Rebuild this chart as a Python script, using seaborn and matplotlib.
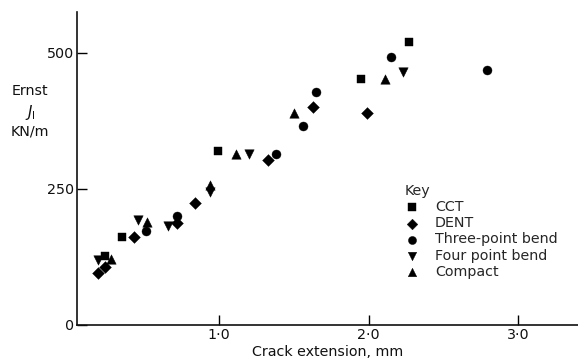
import matplotlib
matplotlib.use("Agg")
import matplotlib.pyplot as plt
import seaborn as sns
import pandas as pd

# Crack extension (mm) and Ernst J_I (kN/m) for each specimen geometry
cct_x = [0.24, 0.35, 0.99, 1.95, 2.27]
cct_y = [127, 162, 320, 452, 520]

dent_x = [0.19, 0.24, 0.43, 0.72, 0.84, 1.33, 1.63, 1.99]
dent_y = [95, 107, 161, 187, 225, 303, 400, 390]

three_x = [0.51, 0.72, 1.38, 1.56, 1.65, 2.15, 2.79]
three_y = [172, 200, 315, 366, 428, 492, 468]

four_x = [0.19, 0.46, 0.66, 0.94, 1.20, 2.23]
four_y = [120, 192, 182, 244, 314, 465]

compact_x = [0.28, 0.52, 0.94, 1.11, 1.50, 2.11]
compact_y = [122, 190, 258, 315, 390, 452]

series_names = ["CCT", "DENT", "Three-point bend", "Four point bend", "Compact"]
series_x = [cct_x, dent_x, three_x, four_x, compact_x]
series_y = [cct_y, dent_y, three_y, four_y, compact_y]

xticks = [1.0, 2.0, 3.0]
xtick_labels = ["1·0", "2·0", "3·0"]
yticks = [0, 250, 500]
ytick_labels = ["0", "250", "500"]

df = pd.DataFrame({
    "Crack extension": [v for xs in series_x for v in xs],
    "J": [v for ys in series_y for v in ys],
    "Specimen": [n for n, xs in zip(series_names, series_x) for _ in xs],
})

sns.set_theme(style="ticks")
plt.rcParams["font.family"] = ["DejaVu Sans"]

FS = 10.3
INK = "#111111"

fig = plt.figure(figsize=(5.78, 3.58), dpi=100)
ax = fig.add_axes([77 / 578, 33 / 358, 1 - 77 / 578, (325 - 12) / 358])

marker_map = {
    "CCT": "s",
    "DENT": "D",
    "Three-point bend": "o",
    "Four point bend": "v",
    "Compact": "^",
}
size_map = {"CCT": 36, "DENT": 36, "Three-point bend": 42,
            "Four point bend": 46, "Compact": 46}

for name in series_names:
    sub = df[df["Specimen"] == name]
    sns.scatterplot(data=sub, x="Crack extension", y="J", marker=marker_map[name],
                    s=size_map[name], color="black", edgecolor="black",
                    linewidth=0.3, ax=ax, label=name)

ax.set_xlim(0.05, 3.4)
ax.set_ylim(0, 575)
ax.set_xticks(xticks)
ax.set_xticklabels(xtick_labels)
ax.set_yticks(yticks)
ax.set_yticklabels(ytick_labels)
ax.tick_params(axis="both", which="major", direction="in", length=7, width=1.0,
               labelsize=FS, color="black", labelcolor=INK)
ax.tick_params(axis="y", pad=2)
ax.tick_params(axis="x", pad=2)
sns.despine(ax=ax)
for s in ("left", "bottom"):
    ax.spines[s].set_linewidth(1.2)
    ax.spines[s].set_color(INK)

ax.set_xlabel("Crack extension, mm", fontsize=FS, color=INK, labelpad=2)
ax.set_ylabel("")

fig.text(30 / 578, 1 - 91 / 358, "Ernst", ha="center", va="center",
         fontsize=FS, color=INK)
fig.text(30 / 578, 1 - 112 / 358, r"$J_{\mathrm{I}}$", ha="center", va="center",
         fontsize=FS + 0.5, color=INK)
fig.text(30 / 578, 1 - 132 / 358, "KN/m", ha="center", va="center",
         fontsize=FS, color=INK)

handles, labels = ax.get_legend_handles_labels()
ax.legend(handles, labels, title="Key", frameon=False, fontsize=FS,
          title_fontsize=FS, alignment="left", loc="upper left",
          bbox_to_anchor=(405 / 578, 1 - 184 / 358),
          bbox_transform=fig.transFigure, handletextpad=1.1,
          labelspacing=0.15, borderaxespad=0, borderpad=0,
          handlelength=1.0, markerscale=0.9)

fig.savefig("out.png", dpi=100, facecolor="white")
